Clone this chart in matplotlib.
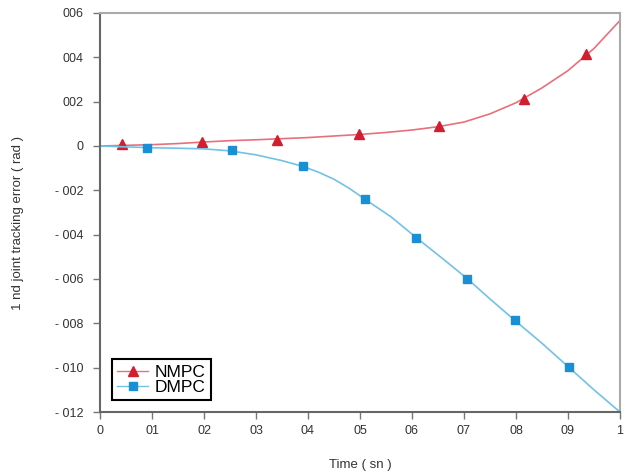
import matplotlib.pyplot as plt
from matplotlib.lines import Line2D

plt.rcParams['font.family'] = ['Liberation Sans', 'DejaVu Sans']

# NMPC curve
nmpc_t = [0.0, 0.05, 0.1, 0.15, 0.2, 0.25, 0.3, 0.35, 0.4, 0.45, 0.5, 0.55, 0.6,
          0.65, 0.7, 0.75, 0.8, 0.85, 0.9, 0.95, 1.0]
nmpc_e = [0.0, 0.00003, 0.00006, 0.00011, 0.00018, 0.00024, 0.00028, 0.00033,
          0.00038, 0.00045, 0.00052, 0.00061, 0.00072, 0.00087, 0.00108,
          0.00145, 0.00195, 0.00262, 0.00340, 0.00440, 0.00566]
nmpc_mt = [0.042, 0.196, 0.340, 0.498, 0.652, 0.815, 0.935]
nmpc_me = [0.00009, 0.0002, 0.00029, 0.00052, 0.00088, 0.00214, 0.00413]

# DMPC curve
dmpc_t = [0.0, 0.05, 0.1, 0.15, 0.2, 0.25, 0.3, 0.35, 0.39, 0.42, 0.45, 0.48,
          0.51, 0.56, 0.608, 0.66, 0.706, 0.75, 0.798, 0.85, 0.902, 0.95, 1.0]
dmpc_e = [0.0, -0.00004, -0.00008, -0.0001, -0.00013, -0.00022, -0.0004,
          -0.00066, -0.00092, -0.00118, -0.0015, -0.00192, -0.00241, -0.0032,
          -0.00413, -0.0051, -0.00598, -0.0069, -0.00787, -0.0089, -0.00999,
          -0.0110, -0.0120]
dmpc_mt = [0.090, 0.254, 0.390, 0.510, 0.608, 0.706, 0.798, 0.902]
dmpc_me = [-0.00009, -0.0002, -0.00092, -0.00241, -0.00413, -0.00598, -0.00787, -0.00999]

xticks = [0, 0.1, 0.2, 0.3, 0.4, 0.5, 0.6, 0.7, 0.8, 0.9, 1.0]
xlabels = ["0", "01", "02", "03", "04", "05", "06", "07", "08", "09", "1"]
yticks = [0.006, 0.004, 0.002, 0, -0.002, -0.004, -0.006, -0.008, -0.010, -0.012]
ylabels = ["006", "004", "002", "0", "- 002", "- 004", "- 006", "- 008", "- 010", "- 012"]

red_line, red_mk = "#e8707c", "#d21f30"
blue_line, blue_mk = "#72c2e4", "#1a8fd4"

fig = plt.figure(figsize=(6.27, 4.72), dpi=100)
ax = fig.add_axes([0.1595, 0.1271, 0.8293, 0.8454])

ax.plot(nmpc_t, nmpc_e, color=red_line, lw=1.2)
ax.plot(nmpc_mt, nmpc_me, ls='none', marker='^', ms=7, color=red_mk)
ax.plot(dmpc_t, dmpc_e, color=blue_line, lw=1.2)
ax.plot(dmpc_mt, dmpc_me, ls='none', marker='s', ms=6, color=blue_mk)

ax.set_xlim(0, 1)
ax.set_ylim(-0.012, 0.006)
ax.set_xticks(xticks)
ax.set_xticklabels(xlabels)
ax.set_yticks(yticks)
ax.set_yticklabels(ylabels)
ax.tick_params(direction='out', length=5, width=1, colors='#777777',
               labelcolor='#333333', labelsize=9)
ax.tick_params(axis='y', pad=7)
ax.tick_params(axis='x', pad=4)

for s in ['left', 'bottom']:
    ax.spines[s].set_color('#666666')
    ax.spines[s].set_linewidth(1.5)
for s in ['top', 'right']:
    ax.spines[s].set_color('#aaaaaa')
    ax.spines[s].set_linewidth(1.5)

ax.set_xlabel("Time ( sn )", fontsize=9.5, color='#333333', labelpad=16)
ax.set_ylabel("1 nd joint tracking error ( rad )", fontsize=9.5, color='#333333')
ax.yaxis.set_label_coords(-0.146, 0.474)

handles = [Line2D([], [], color=red_line, marker='^', ms=7, mfc=red_mk, mec=red_mk, lw=1),
           Line2D([], [], color=blue_line, marker='s', ms=6, mfc=blue_mk, mec=blue_mk, lw=1)]
leg = ax.legend(handles, ["NMPC", "DMPC"], loc='lower left', bbox_to_anchor=(0.023, 0.03),
                borderaxespad=0, fontsize=12.5, fancybox=False, framealpha=1,
                edgecolor='black', handlelength=1.8, handletextpad=0.35,
                borderpad=0.3, labelspacing=0.0)
leg.get_frame().set_linewidth(1.5)

fig.savefig("out.png", dpi=100)
